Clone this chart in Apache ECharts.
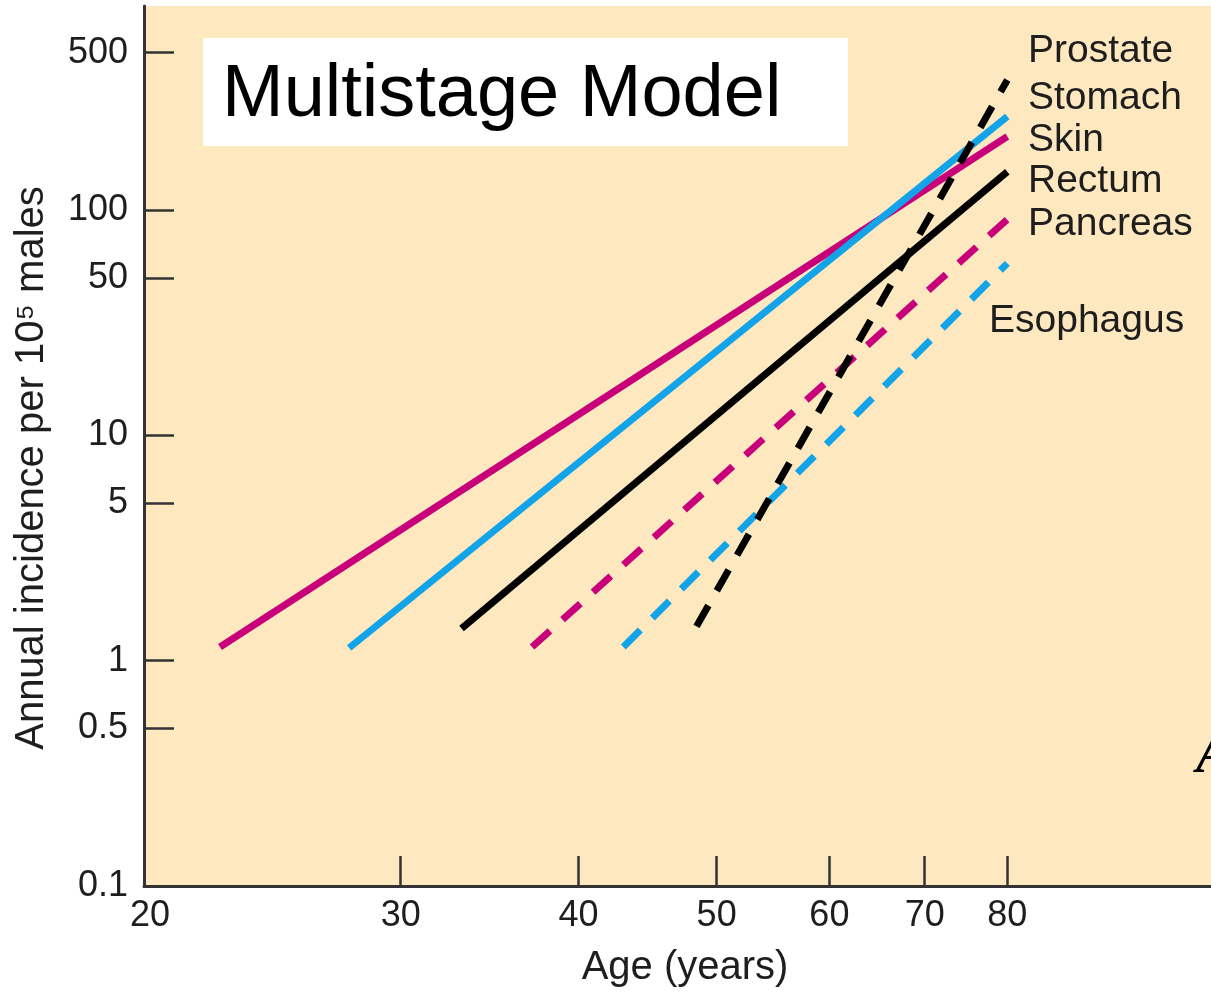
<!DOCTYPE html>
<html><head><meta charset="utf-8">
<script src="https://cdn.jsdelivr.net/npm/echarts@6/dist/echarts.min.js"></script>
<style>html,body{margin:0;padding:0;background:#fff}#c{width:1211px;height:994px}</style>
</head><body><div id="c"></div>
<script>
// ---- data (age in years, incidence per 10^5 males) ----
const skinAges = [22.4, 80];
const skinValues = [1.15, 212];
const stomachAges = [27.6, 80];
const stomachValues = [1.14, 260];
const rectumAges = [33.1, 80];
const rectumValues = [1.39, 148];
const pancreasAges = [37.1, 80];
const pancreasValues = [1.15, 91];
const esophagusAges = [43.0, 80];
const esophagusValues = [1.15, 58];
const prostateAges = [48.4, 80];
const prostateValues = [1.42, 378];

const seriesNames = ['Skin', 'Stomach', 'Rectum', 'Pancreas', 'Esophagus', 'Prostate'];
const legendOrder = ['Prostate', 'Stomach', 'Skin', 'Rectum', 'Pancreas', 'Esophagus'];

const xTickValues = [30, 40, 50, 60, 70, 80];
const xLabelValues = [20, 30, 40, 50, 60, 70, 80];
const yTickValues = [0.5, 1, 5, 10, 50, 100, 500];
const yLabelValues = [0.1, 0.5, 1, 5, 10, 50, 100, 500];

const titleText = 'Multistage Model';
const xAxisName = 'Age (years)';
const yAxisName = 'Annual incidence per 10\u2075 males';

// ---- styles ----
const MAGENTA = '#C8007A';
const CYAN = '#12A3E8';
const BLACK = '#000000';
const DASH = [24, 17];
const FONT = '"Liberation Sans", Arial, Helvetica, sans-serif';
const TXT = '#1e1e1e';

function pairs(a, v) { return a.map((x, i) => [x, v[i]]); }
function mk(name, ages, vals, color, dashed) {
  return {
    name: name, type: 'line', data: pairs(ages, vals), symbol: 'none', silent: true,
    animation: false, clip: true,
    lineStyle: { color: color, width: 7, type: dashed ? DASH : 'solid', cap: 'butt' }
  };
}

const chart = echarts.init(document.getElementById('c'), null, { renderer: 'canvas' });
const labelY = { Prostate: 51, Stomach: 98, Skin: 140, Rectum: 181, Pancreas: 224, Esophagus: 321 };
const labelX = { Prostate: 1028, Stomach: 1028, Skin: 1028, Rectum: 1028, Pancreas: 1028, Esophagus: 989 };

const graphics = [
  { type: 'rect', left: 203, top: 38, shape: { width: 645, height: 108 }, style: { fill: '#ffffff' }, z: 10 },
  { type: 'text', x: 222, y: 96, style: { text: titleText, font: '74px ' + FONT, fill: '#000', textVerticalAlign: 'middle', textAlign: 'left' }, z: 11 },
  { type: 'text', x: 1196, y: 758, style: { text: 'A', font: 'italic bold 56px "Liberation Serif", "Times New Roman", serif', fill: '#000', textVerticalAlign: 'middle', textAlign: 'left' }, z: 11 }
];
legendOrder.forEach(n => {
  graphics.push({ type: 'text', x: labelX[n], y: labelY[n], style: { text: n, font: '39px ' + FONT, fill: TXT, textVerticalAlign: 'middle', textAlign: 'left' }, z: 11 });
});

chart.setOption({
  animation: false,
  backgroundColor: '#ffffff',
  grid: { left: 144, top: 6, right: 0, bottom: 108, show: true, backgroundColor: '#FDE8C0', borderWidth: 0, containLabel: false, outerBoundsMode: 'none' },
  xAxis: {
    type: 'log', logBase: 10, min: 19.81, max: 111.2,
    name: xAxisName, nameLocation: 'middle', nameGap: 62,
    nameTextStyle: { fontSize: 40, fontFamily: FONT, color: TXT, padding: [0, 0, 0, 15] },
    axisLine: { show: true, lineStyle: { color: '#333', width: 3 } },
    axisTick: { show: true, inside: true, length: 30, customValues: xTickValues, lineStyle: { color: '#333', width: 2.5 } },
    axisLabel: { show: true, customValues: xLabelValues, margin: 12, fontSize: 36, fontFamily: FONT, color: TXT,
      formatter: v => String(+(+v).toPrecision(3)) },
    splitLine: { show: false }, minorTick: { show: false }
  },
  yAxis: {
    type: 'log', logBase: 10, min: 0.1, max: 805,
    name: yAxisName, nameLocation: 'middle', nameGap: 92,
    nameTextStyle: { fontSize: 40, fontFamily: FONT, color: TXT, padding: [0, 44, 0, 0] },
    axisLine: { show: true, lineStyle: { color: '#333', width: 3 } },
    axisTick: { show: true, inside: true, length: 30, customValues: yTickValues, lineStyle: { color: '#333', width: 2.5 } },
    axisLabel: { show: true, customValues: yLabelValues, margin: 16, fontSize: 36, fontFamily: FONT, color: TXT,
      formatter: v => String(+(+v).toPrecision(3)) },
    splitLine: { show: false }, minorTick: { show: false }
  },
  graphic: graphics,
  series: [
    mk('Skin', skinAges, skinValues, MAGENTA, false),
    mk('Stomach', stomachAges, stomachValues, CYAN, false),
    mk('Rectum', rectumAges, rectumValues, BLACK, false),
    mk('Pancreas', pancreasAges, pancreasValues, MAGENTA, true),
    mk('Esophagus', esophagusAges, esophagusValues, CYAN, true),
    mk('Prostate', prostateAges, prostateValues, BLACK, true)
  ]
});
</script>
</body></html>
